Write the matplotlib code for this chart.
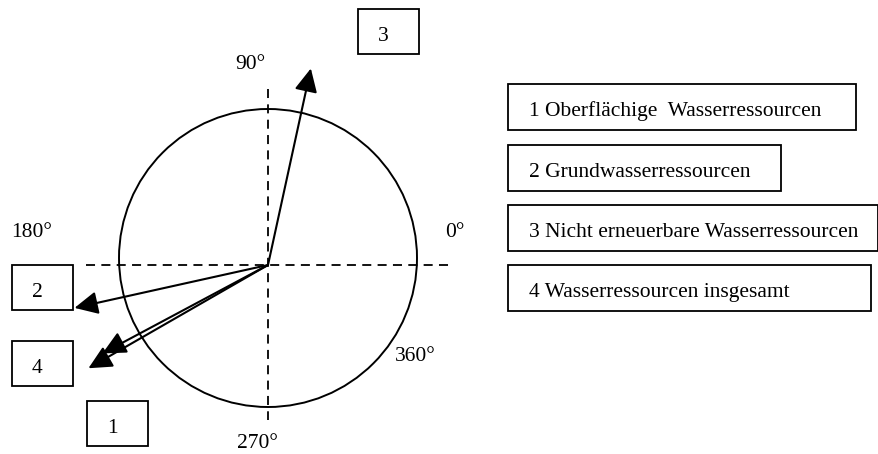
import numpy as np
import matplotlib.pyplot as plt
from matplotlib.patches import Circle, Rectangle

# vector data: label, direction (degrees), length relative to circle radius
labels = ["1", "2", "3", "4"]
angles = [208.1, 192.5, 77.7, 209.9]
lengths = [1.26, 1.33, 1.35, 1.39]

legend_texts = ["1 Oberflächige  Wasserressourcen",
                "2 Grundwasserressourcen",
                "3 Nicht erneuerbare Wasserressourcen",
                "4 Wasserressourcen insgesamt"]
degree_labels = ["0°", "90°", "180°", "270°", "360°"]


def main():
    plt.rcParams['font.family'] = ['Liberation Serif', 'DejaVu Serif']
    fig = plt.figure(figsize=(8.79, 4.54), dpi=100)
    ax = fig.add_axes([0, 0, 1, 1])
    ax.set_xlim(0, 879)
    ax.set_ylim(454, 0)
    ax.axis('off')

    ox, oy = 268, 265  # origin of vectors
    R = 149
    ax.add_patch(Circle((268, 258), R, fill=False, lw=1.4, color='black'))

    # dashed axes
    ax.plot([86, 452], [oy, oy], ls=(0, (5, 3.5)), color='black', lw=1.3)
    ax.plot([ox, ox], [89, 420], ls=(0, (5, 3.5)), color='black', lw=1.3)

    # vectors
    for a, l in zip(angles, lengths):
        t = np.radians(a)
        tx = ox + R * l * np.cos(t)
        ty = oy - R * l * np.sin(t)
        ax.annotate("", xy=(tx, ty), xytext=(ox, oy),
                    arrowprops=dict(arrowstyle='-|>,head_length=0.55,head_width=0.27',
                                    color='black', lw=1.5,
                                    mutation_scale=26, shrinkA=0, shrinkB=0))

    # label boxes near the arrow tips
    boxes = {"1": (87, 401), "2": (12, 265), "3": (358, 9), "4": (12, 341)}
    for lab in labels:
        x0, y0 = boxes[lab]
        ax.add_patch(Rectangle((x0, y0), 61, 45, fill=False, lw=1.3, color='black'))
        ax.text(x0 + 25, y0 + 25, lab, ha='center', va='center_baseline', fontsize=15.5)

    # degree labels
    deg_pos = [(455, 230), (250, 62), (32, 230), (257, 441), (415, 354)]
    for txt, (x, y) in zip(degree_labels, deg_pos):
        ax.text(x, y, txt, ha='center', va='center_baseline', fontsize=15.5)

    # legend boxes
    right = [856, 781, 878, 871]
    tops = [84, 145, 205, 265]
    for txt, r, t in zip(legend_texts, right, tops):
        ax.add_patch(Rectangle((508, t), r - 508, 46, fill=False, lw=1.3, color='black'))
        ax.text(529, t + 25, txt, ha='left', va='center_baseline', fontsize=15.5)

    fig.savefig("out.png", dpi=100)


if __name__ == "__main__":
    main()
